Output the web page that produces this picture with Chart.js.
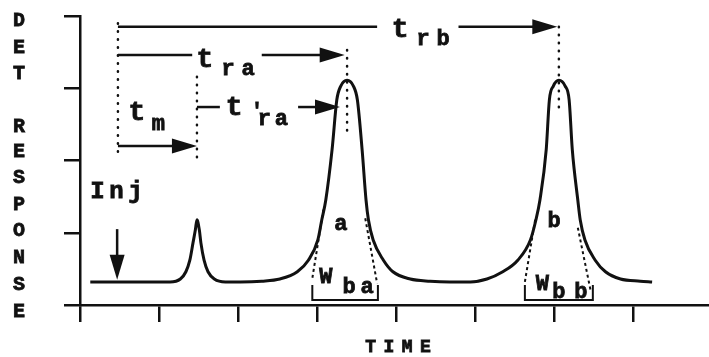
<!DOCTYPE html>
<html>
<head>
<meta charset="utf-8">
<script src="https://cdn.jsdelivr.net/npm/chart.js@4.4.0/dist/chart.umd.min.js"></script>
<style>
    html, body { margin: 0; padding: 0; background: #fff; }
    #wrap { width: 709px; height: 357px; }
</style>
</head>
<body>
<div id="wrap"><canvas id="chart-crom"></canvas></div>
<script>
// ticks of both axes (no labels, only marks)
var xTicks = [0, 1, 2, 3, 4, 5, 6, 7];
var yTicks = [0, 1, 2, 3, 4];

// detector trace
var traceX = [0.13, 1.14, 1.27, 1.34, 1.39, 1.43, 1.46, 1.48, 1.51, 1.53, 1.57, 1.62, 1.70, 1.84,
    2.03, 2.30, 2.53, 2.75, 2.89, 3.01, 3.06, 3.11, 3.19, 3.25, 3.30, 3.38, 3.46, 3.51, 3.57,
    3.62, 3.65, 3.71, 3.84, 3.96, 4.18, 4.43, 4.68,
    4.94, 5.15, 5.35, 5.54, 5.70, 5.77, 5.82, 5.90, 5.94, 5.99, 6.06, 6.14, 6.19, 6.23,
    6.30, 6.33, 6.39, 6.52, 6.65, 6.84, 7.09, 7.24];
var traceY = [0.32, 0.32, 0.36, 0.46, 0.62, 0.86, 1.04, 1.18, 1.04, 0.86, 0.62, 0.46, 0.36, 0.32,
    0.32, 0.33, 0.36, 0.46, 0.62, 0.90, 1.18, 1.45, 2.15, 2.84, 3.03, 3.11, 3.03, 2.84, 2.15,
    1.45, 1.18, 0.90, 0.62, 0.46, 0.36, 0.33, 0.32,
    0.32, 0.36, 0.46, 0.62, 0.90, 1.18, 1.45, 2.15, 2.84, 3.03, 3.11, 3.03, 2.84, 2.15,
    1.45, 1.18, 0.90, 0.62, 0.46, 0.36, 0.33, 0.32];

// retention times (injection, unretained, peak a, peak b)
var injX = 0.48;
var tmX = 1.48;
var traX = 3.38;
var trbX = 6.06;

// dotted drop lines: x, top, bottom
var dropX = [injX, tmX, traX, trbX];
var dropTop = [3.90, 3.16, 3.53, 3.85];
var dropBottom = [2.05, 1.97, 2.38, 2.70];

// tangents on the peak flanks
var tangents = [
    [3.08, 1.32, 2.94, 0.37],
    [3.61, 1.20, 3.76, 0.30],
    [5.76, 1.18, 5.63, 0.32],
    [6.30, 1.07, 6.46, 0.21]
];

// base width brackets: x1, x2
var widthA = [2.94, 3.77];
var widthB = [5.63, 6.49];

(function () {
    var ink = '#111';
    var mono = '"Liberation Mono", "Courier New", monospace';

    function px(chart, x, y) {
        return [chart.scales.x.getPixelForValue(x), chart.scales.y.getPixelForValue(y)];
    }

    function hLine(ctx, chart, x1, x2, y) {
        var a = px(chart, x1, y), b = px(chart, x2, y);
        ctx.beginPath();
        ctx.moveTo(a[0], a[1]);
        ctx.lineTo(b[0], b[1]);
        ctx.stroke();
    }

    function head(ctx, tx, ty, dx, dy) {
        // filled arrow head pointing along (dx, dy)
        var len = 25, half = 7.5;
        var bx = tx - dx * len, by = ty - dy * len;
        ctx.beginPath();
        ctx.moveTo(tx, ty);
        ctx.lineTo(bx - dy * half, by + dx * half);
        ctx.lineTo(bx + dy * half, by - dx * half);
        ctx.closePath();
        ctx.fill();
    }

    function arrowRight(ctx, chart, x1, x2, y) {
        var a = px(chart, x1, y), b = px(chart, x2, y);
        ctx.beginPath();
        ctx.moveTo(a[0], a[1]);
        ctx.lineTo(b[0] - 15, b[1]);
        ctx.stroke();
        head(ctx, b[0], b[1], 1, 0);
    }

    function spaced(ctx, text, cx, cy, pitch) {
        var n = text.length;
        for (var i = 0; i < n; i++) {
            var x = cx + (i - (n - 1) / 2) * pitch;
            ctx.fillText(text[i], x, cy);
            ctx.strokeText(text[i], x, cy);
        }
    }

    function label(ctx, chart, text, x, y, size, pitch) {
        var p = px(chart, x, y);
        ctx.font = 'bold ' + size + 'px ' + mono;
        spaced(ctx, text, p[0], p[1], pitch || 0);
    }

    var annotate = {
        id: 'annotate',
        afterDatasetsDraw: function (chart) {
            var ctx = chart.ctx;
            ctx.save();
            ctx.strokeStyle = ink;
            ctx.fillStyle = ink;
            ctx.lineCap = 'round';

            // dotted drops
            ctx.lineWidth = 2.5;
            ctx.setLineDash([0.5, 7.5]);
            for (var i = 0; i < dropX.length; i++) {
                var a = px(chart, dropX[i], dropTop[i]), b = px(chart, dropX[i], dropBottom[i]);
                ctx.beginPath();
                ctx.moveTo(a[0], a[1]);
                ctx.lineTo(b[0], b[1]);
                ctx.stroke();
            }

            // dashed tangents
            ctx.lineWidth = 2;
            ctx.lineCap = 'butt';
            ctx.setLineDash([3, 3]);
            tangents.forEach(function (t) {
                var a = px(chart, t[0], t[1]), b = px(chart, t[2], t[3]);
                ctx.beginPath();
                ctx.moveTo(a[0], a[1]);
                ctx.lineTo(b[0], b[1]);
                ctx.stroke();
            });
            ctx.setLineDash([]);

            // width brackets
            [widthA, widthB].forEach(function (w) {
                var a = px(chart, w[0], 0.07), b = px(chart, w[1], 0.07);
                ctx.beginPath();
                ctx.moveTo(a[0], a[1] - 15);
                ctx.lineTo(a[0], a[1]);
                ctx.lineTo(b[0], b[1]);
                ctx.lineTo(b[0], b[1] - 15);
                ctx.stroke();
            });

            // retention arrows
            ctx.lineWidth = 2.5;
            hLine(ctx, chart, injX, 3.76, 3.85);
            arrowRight(ctx, chart, 4.79, trbX - 0.02, 3.85);
            hLine(ctx, chart, injX, 1.42, 3.46);
            arrowRight(ctx, chart, 2.30, traX - 0.03, 3.46);
            hLine(ctx, chart, tmX, 1.77, 2.74);
            arrowRight(ctx, chart, 2.76, 3.29, 2.74);
            arrowRight(ctx, chart, injX, tmX, 2.20);

            // injection arrow
            var i1 = px(chart, 0.47, 1.05), i2 = px(chart, 0.47, 0.35);
            ctx.beginPath();
            ctx.moveTo(i1[0], i1[1]);
            ctx.lineTo(i2[0], i2[1] - 15);
            ctx.stroke();
            head(ctx, i2[0], i2[1], 0, 1);

            // labels (thin stroke to get the heavy typewriter look)
            ctx.lineWidth = 0.8;
            ctx.textAlign = 'center';
            ctx.textBaseline = 'alphabetic';
            label(ctx, chart, 't', 4.05, 3.71, 28);
            label(ctx, chart, 'rb', 4.47, 3.60, 22, 20);
            label(ctx, chart, 't', 1.58, 3.29, 28);
            label(ctx, chart, 'ra', 2.00, 3.18, 22, 20);
            label(ctx, chart, 't', 1.95, 2.63, 28);
            label(ctx, chart, "'", 2.24, 2.60, 20);
            label(ctx, chart, 'ra', 2.44, 2.49, 22, 17);
            label(ctx, chart, 't', 0.72, 2.56, 28);
            label(ctx, chart, 'm', 0.99, 2.42, 22);
            label(ctx, chart, 'Inj', 0.46, 1.48, 24, 19);
            label(ctx, chart, 'a', 3.30, 1.04, 22);
            label(ctx, chart, 'b', 6.00, 1.08, 22);
            label(ctx, chart, 'W', 3.11, 0.30, 22);
            label(ctx, chart, 'ba', 3.52, 0.17, 22, 18);
            label(ctx, chart, 'W', 5.85, 0.21, 22);
            label(ctx, chart, 'bb', 6.20, 0.10, 22, 22);

            // axis titles
            ctx.font = 'bold 18px ' + mono;
            spaced(ctx, 'TIME', 398, 352, 18.3);
            ctx.font = 'bold 20px ' + mono;
            ctx.textBaseline = 'middle';
            var yTitle = 'DET RESPONSE';
            var yPos = [21, 48, 74, 0, 127, 152, 178, 205, 231, 258, 285, 312];
            for (var k = 0; k < yTitle.length; k++) {
                if (yTitle[k] !== ' ') {
                    ctx.fillText(yTitle[k], 19, yPos[k]);
                    ctx.strokeText(yTitle[k], 19, yPos[k]);
                }
            }
            ctx.restore();
        }
    };

    var points = traceX.map(function (x, i) {
        return { x: x, y: traceY[i] };
    });

    function axis(ticks, min, max, tickLength) {
        return {
            type: 'linear',
            min: min,
            max: max,
            afterBuildTicks: function (scale) {
                scale.ticks = ticks.map(function (v) { return { value: v }; });
            },
            ticks: { display: false },
            grid: {
                drawOnChartArea: false,
                drawTicks: true,
                tickLength: tickLength,
                color: ink,
                lineWidth: 2.5
            },
            border: { display: true, color: ink, width: 2.5 }
        };
    }

    new Chart(document.getElementById('chart-crom'), {
        type: 'scatter',
        data: {
            datasets: [{
                data: points,
                showLine: true,
                borderColor: ink,
                borderWidth: 3,
                pointRadius: 0,
                cubicInterpolationMode: 'monotone',
                fill: false
            }]
        },
        options: {
            responsive: true,
            maintainAspectRatio: false,
            animation: false,
            layout: { padding: { left: 64, top: 16, right: 0, bottom: 35 } },
            plugins: { legend: { display: false }, tooltip: { enabled: false } },
            scales: {
                x: axis(xTicks, 0, 7.96, 17),
                y: axis(yTicks, 0, 4, 16)
            }
        },
        plugins: [annotate]
    });
}());
</script>
</body>
</html>
